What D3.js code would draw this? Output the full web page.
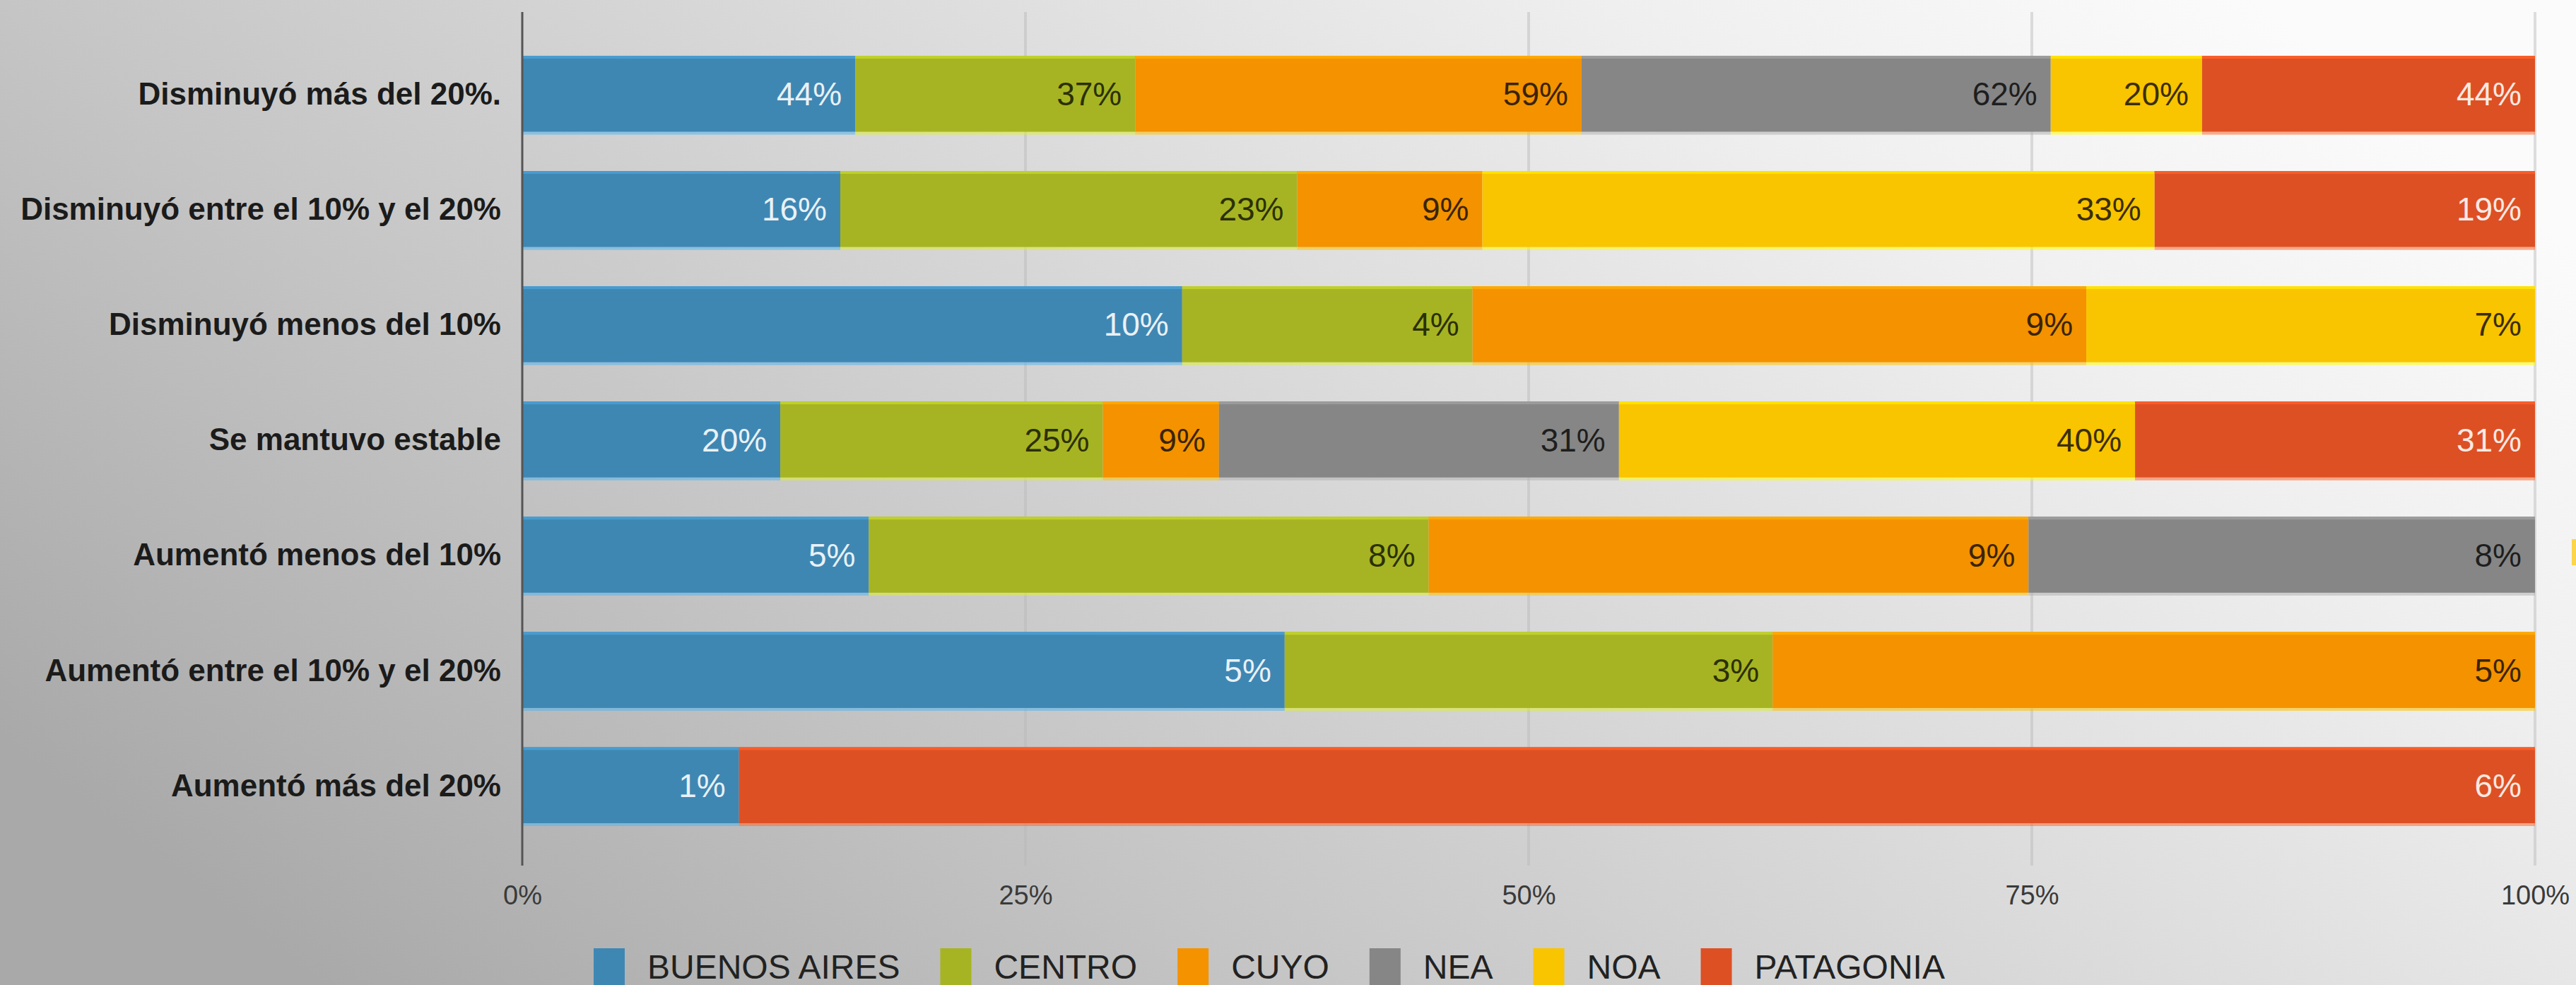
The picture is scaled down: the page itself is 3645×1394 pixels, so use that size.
<!DOCTYPE html>
<html>
<head>
<meta charset="utf-8">
<script src="https://cdn.jsdelivr.net/npm/d3@7"></script>
<style>
  html, body { margin: 0; padding: 0; background: #ffffff; }
  svg { display: block; }
</style>
</head>
<body>
<svg id="chart" width="3645" height="1394"></svg>
<script>
// ---------- data ----------
const categories = [
  "Disminuyó más del 20%.",
  "Disminuyó entre el 10% y el 20%",
  "Disminuyó menos del 10%",
  "Se mantuvo estable",
  "Aumentó menos del 10%",
  "Aumentó entre el 10% y el 20%",
  "Aumentó más del 20%"
];
const regions = ["BUENOS AIRES", "CENTRO", "CUYO", "NEA", "NOA", "PATAGONIA"];
// percentage of each region's respondents in each category (0 = no segment)
const buenosAires = [44, 15.8, 10.0, 20, 5.2, 5.0, 0.7];
const centro      = [37, 22.7, 4.4, 25, 8.4, 3.2, 0];
const cuyo        = [59, 9.2, 9.3, 9, 9.0, 5.0, 0];
const nea         = [62, 0, 0, 31, 7.6, 0, 0];
const noa         = [20, 33.4, 6.8, 40, 0, 0, 0];
const patagonia   = [44, 18.9, 0, 31, 0, 0, 5.8];
const tickValues  = [0, 0.25, 0.5, 0.75, 1];
const tickLabels  = ["0%", "25%", "50%", "75%", "100%"];

const seriesValues = [buenosAires, centro, cuyo, nea, noa, patagonia];
const colors = ["#3f87b3", "#a6b423", "#f49200", "#868686", "#f9c400", "#dd5024"];
const labelColors = ["#e9f1f6", "#2b3000", "#3a2400", "#1e1e1e", "#3a2e00", "#fbe9e2"];

// ---------- layout ----------
const W = 3645, H = 1394;
const x0 = 739, x1 = 3587;
const svg = d3.select("#chart");

// background gradient
const defs = svg.append("defs");
const bg = defs.append("linearGradient").attr("id", "bg")
  .attr("x1", 0).attr("y1", 0.75).attr("x2", 1).attr("y2", 0.25);
[[0, "#a9a9a9"], [0.3, "#c5c5c5"], [0.55, "#dadada"], [0.8, "#efefef"], [1, "#fbfbfb"]]
  .forEach(([o, c]) => bg.append("stop").attr("offset", o).attr("stop-color", c));
svg.append("rect").attr("width", W).attr("height", H).attr("fill", "url(#bg)");

const x = d3.scaleLinear().domain([0, 1]).range([x0, x1]);
const y = d3.scaleBand().domain(categories).range([17, 1227])
  .paddingInner(0.34).paddingOuter(0.38);

// rows of stacked data, normalised to 100%
const rows = categories.map((cat, i) => {
  const obj = { cat };
  regions.forEach((r, j) => obj[r] = seriesValues[j][i]);
  return obj;
});
const stack = d3.stack().keys(regions).offset(d3.stackOffsetExpand);
const layers = stack(rows);

// gridlines
svg.append("g").selectAll("line").data(tickValues.slice(1)).join("line")
  .attr("x1", d => x(d)).attr("x2", d => x(d))
  .attr("y1", 17).attr("y2", 1225)
  .attr("stroke", "#b8b8b8").attr("stroke-opacity", 0.45).attr("stroke-width", 4);

// bars
const gBars = svg.append("g");
layers.forEach((layer, j) => {
  const g = gBars.append("g");
  const segs = layer.map((d, i) => ({ d, i, v: seriesValues[j][i] })).filter(s => s.v > 0);
  g.selectAll("rect.bar").data(segs).join("rect").attr("class", "bar")
    .attr("x", s => x(s.d[0])).attr("width", s => x(s.d[1]) - x(s.d[0]))
    .attr("y", s => y(categories[s.i])).attr("height", y.bandwidth())
    .attr("fill", colors[j]);
  // top highlight & bottom shade
  g.selectAll("rect.hi").data(segs).join("rect").attr("class", "hi")
    .attr("x", s => x(s.d[0])).attr("width", s => x(s.d[1]) - x(s.d[0]))
    .attr("y", s => y(categories[s.i])).attr("height", 4)
    .attr("fill", d3.color(colors[j]).brighter(0.5)).attr("opacity", 0.8);
  g.selectAll("rect.lo").data(segs).join("rect").attr("class", "lo")
    .attr("x", s => x(s.d[0])).attr("width", s => x(s.d[1]) - x(s.d[0]))
    .attr("y", s => y(categories[s.i]) + y.bandwidth()).attr("height", 4)
    .attr("fill", d3.color(colors[j]).brighter(0.8)).attr("opacity", 0.55);
  g.selectAll("text").data(segs).join("text")
    .attr("x", s => x(s.d[1]) - 19)
    .attr("y", s => y(categories[s.i]) + y.bandwidth() / 2)
    .attr("dy", "0.36em")
    .attr("text-anchor", "end")
    .attr("font-family", "'Liberation Sans', Arial, sans-serif")
    .attr("font-size", 46)
    .attr("fill", labelColors[j])
    .text(s => d3.format(".0f")(s.v) + "%");
});

// zero axis line
svg.append("line").attr("x1", x0).attr("x2", x0).attr("y1", 17).attr("y2", 1225)
  .attr("stroke", "#555555").attr("stroke-width", 3);

// category labels
svg.append("g").selectAll("text").data(categories).join("text")
  .attr("x", 709).attr("y", d => y(d) + y.bandwidth() / 2).attr("dy", "0.35em")
  .attr("text-anchor", "end")
  .attr("font-family", "'Liberation Sans', Arial, sans-serif")
  .attr("font-weight", "bold").attr("font-size", 44)
  .attr("fill", "#1b1b1b")
  .text(d => d);

// x axis tick labels
const axis = d3.axisBottom(x).tickValues(tickValues)
  .tickFormat((d, i) => tickLabels[i]).tickSize(0).tickPadding(0);
const gAxis = svg.append("g").attr("transform", "translate(0,1253)").call(axis);
gAxis.select(".domain").remove();
gAxis.selectAll("text")
  .attr("font-family", "'Liberation Sans', Arial, sans-serif")
  .attr("font-size", 38).attr("fill", "#3a3a3a");

// legend
const legend = svg.append("g");
let lx = 840;
regions.forEach((r, j) => {
  legend.append("rect").attr("x", lx).attr("y", 1342).attr("width", 44).attr("height", 56)
    .attr("fill", colors[j]);
  const t = legend.append("text").attr("x", lx + 76).attr("y", 1385)
    .attr("font-family", "'Liberation Sans', Arial, sans-serif")
    .attr("font-size", 48).attr("fill", "#222222").text(r);
  lx += 76 + t.node().getComputedTextLength() + 57;
});

// small cropped mark at the right edge
svg.append("rect").attr("x", 3639).attr("y", 763).attr("width", 6).attr("height", 37)
  .attr("fill", "#fbd54a");
</script>
</body>
</html>
